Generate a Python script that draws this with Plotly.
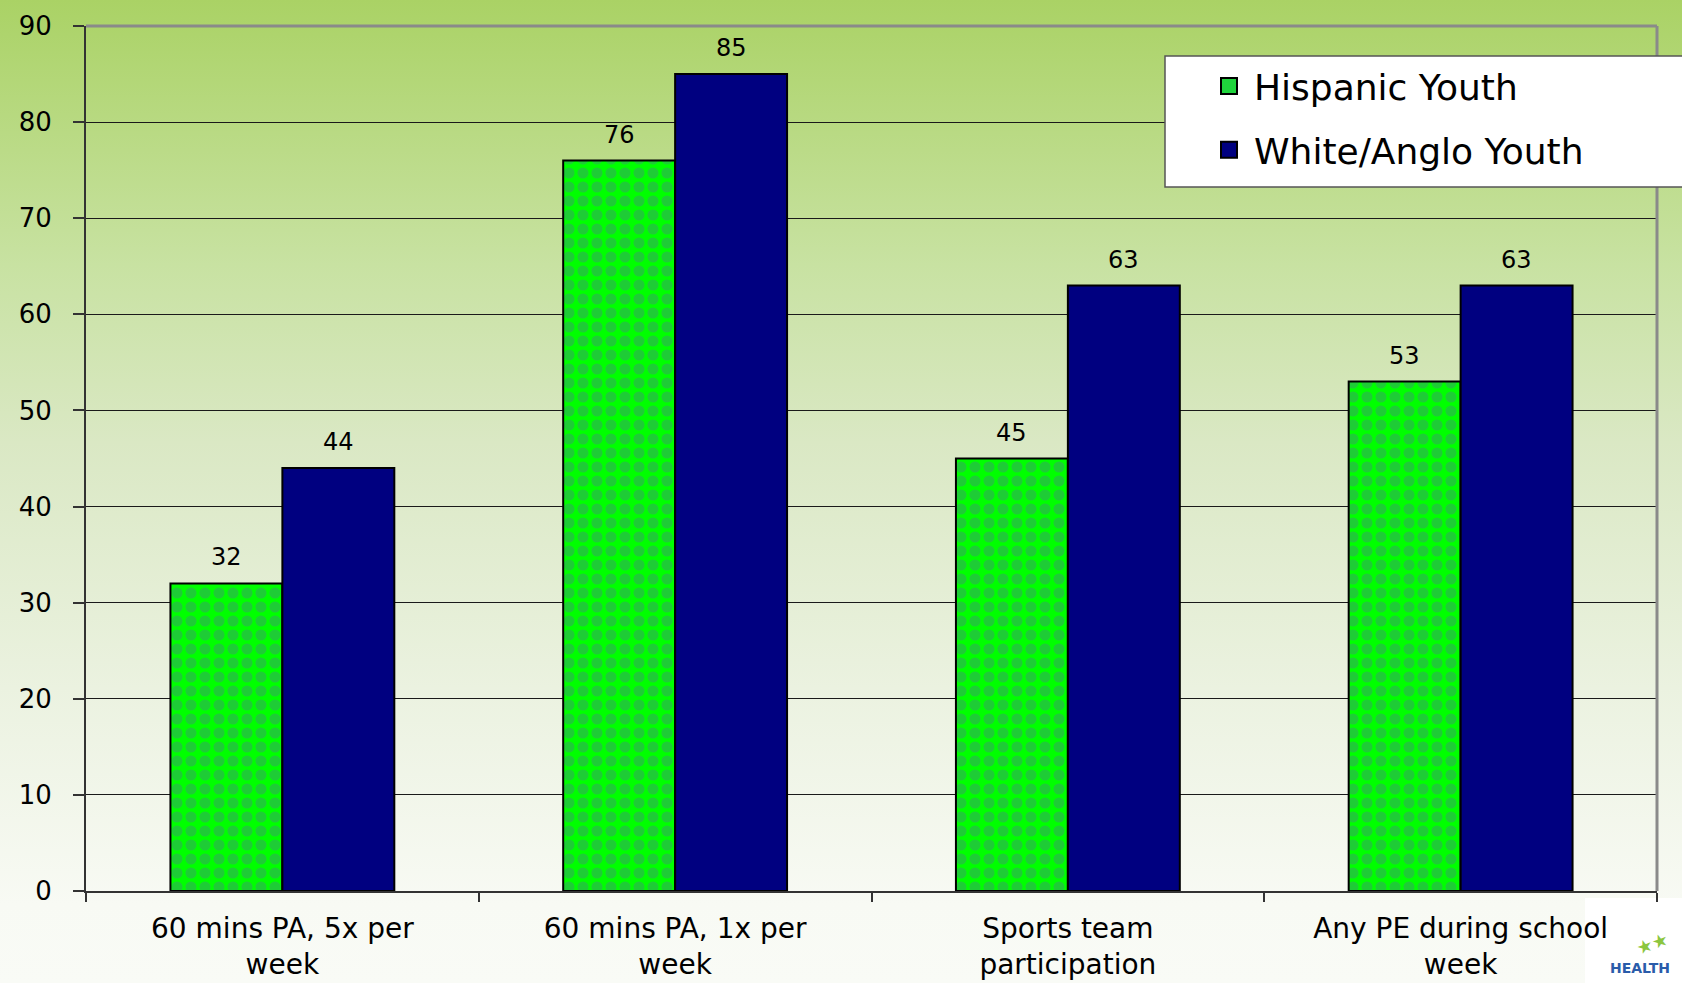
import base64
import plotly.graph_objects as go

categories = ["60 mins PA, 5x per<br>week", "60 mins PA, 1x per<br>week",
              "Sports team<br>participation", "Any PE during school<br>week"]
hispanic = [32, 76, 45, 53]
white = [44, 85, 63, 63]
series_names = ["Hispanic Youth", "White/Anglo Youth"]
y_ticks = [0, 10, 20, 30, 40, 50, 60, 70, 80, 90]

W, H = 1682, 983
ML, MR, MT, MB = 86, 25, 26, 92
PW, PH = W - ML - MR, H - MT - MB
FONT = "DejaVu Sans"


def px_x(px):
    return (px - ML) / PW


def px_y(py):
    return (H - MB - py) / PH


svg = f'''<svg xmlns="http://www.w3.org/2000/svg" width="{W}" height="{H}" preserveAspectRatio="none">
<defs><linearGradient id="g" x1="0" y1="0" x2="0" y2="1">
<stop offset="0" stop-color="#AAD265"/>
<stop offset="0.27" stop-color="#C8E2A2"/>
<stop offset="0.45" stop-color="#DAE8C4"/>
<stop offset="0.7" stop-color="#EBF2E0"/>
<stop offset="0.92" stop-color="#F8FAF4"/>
<stop offset="1" stop-color="#F9FBF6"/>
</linearGradient></defs>
<rect x="0" y="0" width="{W}" height="{H}" fill="url(#g)"/>
</svg>'''
src = "data:image/svg+xml;base64," + base64.b64encode(svg.encode()).decode()

fig = go.Figure()
fig.add_trace(go.Bar(
    x=categories, y=hispanic, name=series_names[0], showlegend=False,
    marker=dict(color="#00FF00", line=dict(color="black", width=2),
                pattern=dict(shape=".", fgcolor="#3C9A6B", bgcolor="#00FF00",
                             size=14, solidity=0.5)),
))
fig.add_trace(go.Bar(
    x=categories, y=white, name=series_names[1], showlegend=False,
    marker=dict(color="#000080", line=dict(color="black", width=2)),
))
# legend entries with larger square keys
fig.add_trace(go.Scatter(x=[None], y=[None], mode="markers", name=series_names[0],
                         legendgroup="a",
                         marker=dict(symbol="square", size=16, color="#1FD43C",
                                     line=dict(color="black", width=2))))
fig.add_trace(go.Scatter(x=[None], y=[None], mode="markers", name=series_names[1],
                         legendgroup="b",
                         marker=dict(symbol="square", size=16, color="#000080",
                                     line=dict(color="black", width=2))))

annotations = []
for cat, hv, wv in zip(categories, hispanic, white):
    for val, shift in ((hv, -56), (wv, 56)):
        annotations.append(dict(x=cat, y=val, xref="x", yref="y", text=str(val),
                                showarrow=False, xshift=shift, yshift=10,
                                yanchor="bottom",
                                font=dict(family=FONT, size=24, color="black")))

# logo fragment bottom right
annotations.append(dict(x=px_x(1640), y=px_y(968), xref="paper", yref="paper",
                        text="<b>HEALTH</b>", showarrow=False, xanchor="center", yanchor="middle",
                        font=dict(family=FONT, size=14, color="#2A5CAA")))
annotations.append(dict(x=px_x(1652), y=px_y(943), xref="paper", yref="paper",
                        text="★★", showarrow=False, xanchor="center", yanchor="middle",
                        textangle=-20,
                        font=dict(family=FONT, size=18, color="#8CC63F")))

fig.update_layout(
    width=W, height=H,
    margin=dict(l=ML, r=MR, t=MT, b=MB, autoexpand=False),
    paper_bgcolor="#F9FBF6", plot_bgcolor="rgba(0,0,0,0)",
    barmode="group", bargap=0.43, bargroupgap=0,
    font=dict(family=FONT, color="black"),
    images=[dict(source=src, xref="paper", yref="paper", x=-ML / PW, y=1 + MT / PH,
                 sizex=W / PW, sizey=H / PH, xanchor="left", yanchor="top",
                 sizing="stretch", layer="below")],
    shapes=[
        dict(type="line", xref="paper", yref="paper", x0=0, x1=1, y0=1, y1=1,
             line=dict(color="#8A8A8A", width=3), layer="above"),
        dict(type="line", xref="paper", yref="paper", x0=1, x1=1, y0=0, y1=1,
             line=dict(color="#8A8A8A", width=3), layer="above"),
        dict(type="rect", xref="paper", yref="paper", x0=px_x(1585), x1=px_x(1700),
             y0=px_y(1000), y1=px_y(898),
             line=dict(width=0), fillcolor="#FFFFFF", layer="below"),
        # legend box
        dict(type="rect", xref="paper", yref="paper", x0=px_x(1165), x1=px_x(1700),
             y0=px_y(187), y1=px_y(56),
             line=dict(color="#555555", width=1.5), fillcolor="#FFFFFF", layer="above"),
    ],
    xaxis=dict(type="category", tickson="boundaries", ticks="outside", ticklen=9,
               tickcolor="#333333", tickwidth=1.5, showline=True, linecolor="#333333",
               linewidth=2, showgrid=False, ticklabelstandoff=11,
               tickfont=dict(family=FONT, size=28, color="black")),
    yaxis=dict(range=[0, 90], tickvals=y_ticks, ticks="outside", ticklen=11,
               tickcolor="#333333", tickwidth=1.5, showline=True, linecolor="#333333",
               linewidth=2, showgrid=True, gridcolor="#1A1A1A", gridwidth=1,
               zeroline=False, ticklabelstandoff=16,
               tickfont=dict(family=FONT, size=26, color="black")),
    legend=dict(x=px_x(1204), y=px_y(56), xanchor="left", yanchor="top",
                bgcolor="rgba(0,0,0,0)", borderwidth=0,
                font=dict(family=FONT, size=36, color="black"),
                tracegroupgap=14, itemwidth=40, traceorder="grouped"),
    annotations=annotations,
)

fig.write_html("out.html")
